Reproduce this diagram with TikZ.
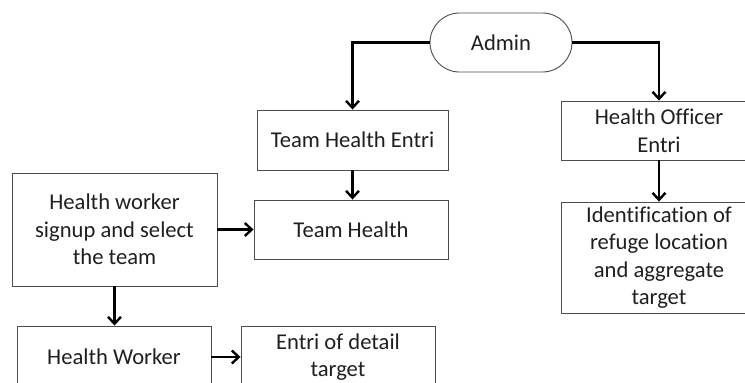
\documentclass[tikz,border=0pt]{standalone}
\usepackage{fontspec}
\setmainfont{Carlito}[Ligatures=NoCommon]
\usetikzlibrary{arrows.meta}
\begin{document}
\begin{tikzpicture}[x=1pt,y=-1pt,
  font=\fontsize{22.6}{27.5}\selectfont,
  box/.style={draw=black!70, line width=0.9pt, text=black!88, align=center,
    inner sep=0pt, minimum width=#1},
  flow/.style={line width=2.4pt, -{Straight Barb[length=7pt,width=13pt,line width=2.4pt]}},
]
\useasboundingbox (0,0) rectangle (745,383);
\clip (0,0) rectangle (745,383);
% start node
\node[box=142, minimum height=59, rounded corners=29.5] (admin) at (501,42.5) {Admin};
% team branch
\node[box=191, minimum height=60] (tentry) at (352.5,140) {Team Health Entri};
\node[box=194, minimum height=59] (team) at (351,229.5) {Team Health};
% officer branch
\node[box=196, minimum height=59] (oentry) at (659,130.5) {Health Officer\\Entri};
\node[box=196, minimum height=111] (ident) at (659,257.5) {Identification of\\refuge location\\and aggregate\\target};
% worker side
\node[box=205, minimum height=113] (signup) at (114.5,229.5) {Health worker\\signup and select\\the team};
\node[box=194, minimum height=62] (worker) at (114,357) {Health Worker};
\node[box=194, minimum height=62] (detail) at (338,357) {Entri of detail\\target};
% connectors
\draw[flow] (admin.west) -| (tentry.north);
\draw[flow] (admin.east) -| (oentry.north);
\draw[flow] (tentry.south) -- (tentry.south |- team.north);
\draw[flow] (oentry.south) -- (ident.north);
\draw[flow] (signup.east) -- (team.west);
\draw[flow] (signup.south) -- (signup.south |- worker.north);
\draw[flow] (worker.east) -- (detail.west);
\end{tikzpicture}
\end{document}
